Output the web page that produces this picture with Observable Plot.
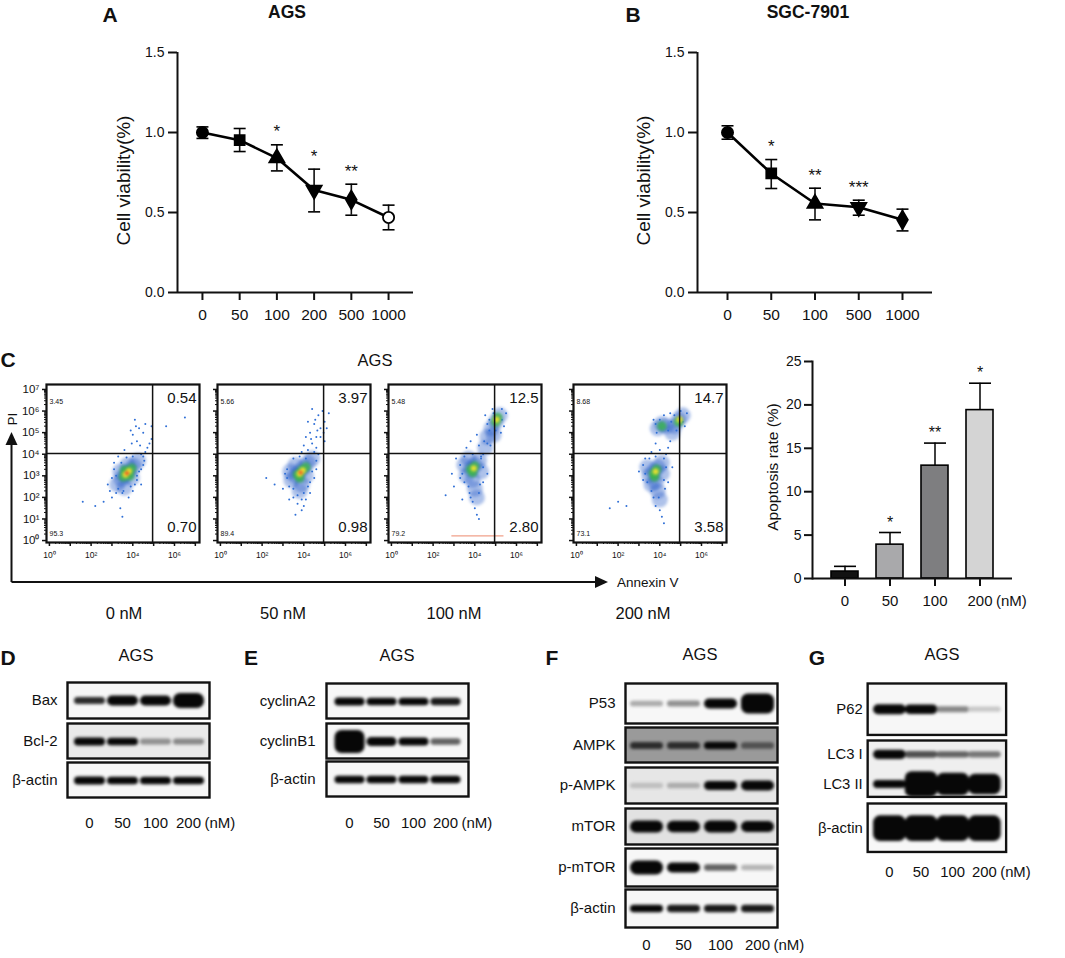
<!DOCTYPE html>
<html><head><meta charset="utf-8">
<script src="https://cdn.jsdelivr.net/npm/d3@7"></script>
<script src="https://cdn.jsdelivr.net/npm/@observablehq/plot@0.6"></script>
<style>
body{margin:0;background:#fff;font-family:"Liberation Sans",Arial,sans-serif;}
#fig{position:relative;width:1065px;height:958px;overflow:hidden;background:#fff;}
.abs{position:absolute;}
.lbl{position:absolute;white-space:nowrap;color:#111;line-height:1;font-family:"Liberation Sans",Arial,sans-serif;}
</style></head><body><div id="fig"></div>
<script>
// ---------- DATA ----------
const doseA = ["0","50","100","200","500","1000"];
const meanA = [1.00,0.952,0.840,0.640,0.579,0.469];
const lowA  = [0.963,0.881,0.760,0.504,0.483,0.392];
const highA = [1.035,1.025,0.923,0.771,0.677,0.546];
const sigA  = ["","","*","*","**",""];
const shapeA = ["circle","square","triangle","triangleDown","diamond","circleOpen"];

const doseB = ["0","50","100","500","1000"];
const meanB = [1.00,0.744,0.556,0.533,0.454];
const lowB  = [0.958,0.650,0.454,0.483,0.385];
const highB = [1.042,0.831,0.652,0.577,0.521];
const sigB  = ["","*","**","***",""];
const shapeB = ["circle","square","triangle","triangleDown","diamond"];
const viabTicks = [0,0.5,1.0,1.5];

const apopDose = ["0","50","100","200"];
const apopMean = [0.8,3.9,13.0,19.4];
const apopHigh = [1.4,5.3,15.6,22.5];
const apopSig  = ["","*","**","*"];
const apopTicks = [0,5,10,15,20,25];

const flowDoses = ["0 nM","50 nM","100 nM","200 nM"];
const flowUL = ["3.45","5.66","5.48","8.68"];
const flowUR = ["0.54","3.97","12.5","14.7"];
const flowLL = ["95.3","89.4","79.2","73.1"];
const flowLR = ["0.70","0.98","2.80","3.58"];
const gateAnnexin = 4.95, gatePI = 4.03;   // log10 units
const flowDecades = [0,1,2,3,4,5,6,7];
// events as [log10 Annexin V, log10 PI, density level 0..4]
const flow0 = [
 [3.25,2.6,1],[3.45,2.85,1],[3.65,3.05,1],[3.85,3.25,1],[4.05,3.45,1],[4.25,3.7,1],[3.6,2.45,1],[3.75,3.5,1],[3.4,3.2,1],[3.95,2.9,1],
 [3.55,2.95,2],[3.75,3.15,2],[3.95,3.35,2],[3.6,3.25,2],[3.85,3.0,2],
 [3.65,3.05,3],[3.82,3.22,3],[3.72,3.12,4],
 [4.5,3.9,0],[4.6,4.1,0],[4.7,4.3,0],[4.8,4.5,0],[4.4,4.0,0],[4.2,4.6,0],[4.0,4.9,0],[4.3,5.2,0],[4.6,5.4,0],[3.9,5.1,0],[4.1,5.6,0],[4.5,5.0,0],
 [4.9,5.3,0],[5.6,5.3,0],[6.5,5.7,0],[4.9,4.7,0],[3.2,2.2,0],[3.0,2.0,0],[2.6,1.8,0],[2.2,1.6,0],[1.6,1.8,0],[3.4,1.5,0],[3.5,1.1,0],[3.8,2.0,0],
 [4.0,2.3,0],[4.4,2.6,0],[2.8,2.6,0],[3.1,3.6,0],[3.3,3.9,0],[4.0,3.9,0],[3.6,4.2,0],[4.4,3.3,0],[4.2,3.0,0],[4.35,4.4,0],[4.15,5.3,0],[3.95,4.5,0],
 [3.0,2.9,0],[3.1,3.3,0],[3.3,2.4,0],[3.5,2.2,0],[3.9,2.5,0],[4.2,2.8,0],[4.3,3.2,0],[4.5,3.5,0],[3.45,3.6,0],[3.7,3.85,0],[3.2,3.0,0],[4.1,2.6,0],
 [3.55,2.3,0],[4.55,3.7,0],[2.9,2.3,0]
];
const flow50 = [
 [3.4,2.8,1],[3.6,3.0,1],[3.8,3.2,1],[4.0,3.4,1],[4.2,3.6,1],[4.4,3.8,1],[3.9,2.6,1],[3.6,3.5,1],[4.1,3.0,1],[3.8,2.3,1],[3.35,3.2,1],
 [3.7,3.05,2],[3.9,3.25,2],[4.1,3.4,2],[3.8,2.9,2],
 [3.8,3.1,3],[3.95,3.25,3],[3.85,3.15,4],
 [4.2,4.2,0],[4.4,4.5,0],[4.6,4.8,0],[4.8,5.2,0],[5.0,5.5,0],[4.3,5.0,0],[4.5,5.4,0],[4.1,4.8,0],[4.7,5.8,0],[4.9,6.0,0],[5.1,5.2,0],[4.0,4.4,0],
 [4.6,4.3,0],[4.8,4.8,0],[4.2,5.5,0],[4.4,6.1,0],[5.2,5.9,0],[4.5,4.1,0],[5.0,4.6,0],[3.9,4.1,0],[4.65,5.1,0],[4.35,4.7,0],[4.95,5.0,0],[4.55,5.6,0],
 [3.5,2.0,0],[3.7,1.7,0],[3.9,1.4,0],[4.1,1.9,0],[3.6,1.2,0],[3.3,1.9,0],[3.0,2.4,0],[2.6,2.6,0],[2.2,2.9,0],[4.3,2.2,0],[4.5,2.9,0],[4.6,3.3,0],[3.2,3.3,0],[4.0,1.6,0],
 [3.2,2.9,0],[3.3,2.5,0],[3.5,2.4,0],[3.7,2.1,0],[4.0,2.2,0],[4.3,2.7,0],[4.4,3.2,0],[4.6,3.7,0],[3.5,3.8,0],[3.8,3.9,0],[4.1,3.8,0],[3.1,3.1,0],
 [3.9,1.9,0],[4.2,2.5,0],[4.7,4.0,0]
];
const flow100 = [
 [3.6,3.0,1],[3.8,3.3,1],[4.0,3.5,1],[4.2,3.7,1],[3.9,2.8,1],[4.0,2.4,1],[4.1,2.0,1],[3.5,3.5,1],[4.3,3.2,1],[3.7,3.8,1],
 [4.8,5.2,1],[5.0,5.5,1],[5.2,5.8,1],[4.6,4.8,1],[4.5,4.3,1],[4.9,4.9,1],
 [3.8,3.3,2],[4.0,3.45,2],[3.9,3.15,2],[5.0,5.5,2],[5.1,5.7,2],
 [3.95,3.35,3],[5.05,5.6,3],
 [4.4,4.0,0],[4.3,3.9,0],[4.6,4.5,0],[4.2,4.4,0],[4.7,5.6,0],[5.3,6.1,0],[5.4,5.3,0],[4.5,5.8,0],[5.5,5.9,0],[4.0,1.5,0],[4.1,1.2,0],[3.9,1.8,0],
 [4.2,1.0,0],[3.3,2.9,0],[3.0,2.5,0],[2.9,3.1,0],[3.1,3.8,0],[4.4,2.7,0],[4.6,3.1,0],[3.6,4.3,0],[3.8,4.6,0],[4.1,4.9,0],[3.4,1.9,0],[2.6,2.1,0],
 [4.45,4.6,0],[4.75,4.4,0],[5.25,5.0,0],[4.85,6.1,0],[3.75,2.2,0],[4.25,2.6,0],
 [3.4,3.1,0],[3.5,2.7,0],[3.7,2.5,0],[3.8,2.0,0],[4.2,2.2,0],[4.4,3.4,0],[4.3,3.8,0],[3.5,3.9,0],[3.9,4.0,0],[3.3,3.5,0],[4.9,5.9,0],[5.3,5.6,0],
 [4.7,5.1,0],[5.0,5.1,0],[4.6,5.4,0]
];
const flow200 = [
 [3.5,3.0,1],[3.7,3.2,1],[3.9,3.4,1],[4.1,3.6,1],[3.8,2.7,1],[3.9,2.3,1],[4.0,1.9,1],[3.4,3.4,1],[4.1,3.1,1],[3.6,2.6,1],
 [3.9,5.2,1],[4.1,5.4,1],[4.7,5.3,1],[4.9,5.6,1],[5.1,5.8,1],[4.6,5.0,1],[4.3,5.3,1],
 [3.7,3.1,2],[3.85,3.3,2],[3.75,2.95,2],[4.9,5.5,2],[4.1,5.3,2],
 [3.8,3.2,3],[4.95,5.6,3],
 [4.3,4.0,0],[4.4,4.3,0],[4.5,4.6,0],[4.0,1.4,0],[4.1,1.1,0],[3.8,1.6,0],[4.2,0.8,0],[3.2,2.8,0],[3.0,3.2,0],[2.0,1.8,0],[1.6,1.5,0],[2.4,1.6,0],
 [3.6,4.1,0],[3.8,4.5,0],[3.7,5.6,0],[4.2,5.8,0],[5.2,5.3,0],[5.0,6.0,0],[4.5,5.9,0],[4.4,2.7,0],[4.6,3.4,0],[3.3,3.8,0],[4.0,4.2,0],[3.85,5.0,0],
 [4.55,5.5,0],[5.3,5.9,0],[3.95,2.0,0],[4.25,2.4,0],
 [3.3,3.1,0],[3.4,2.7,0],[3.6,2.3,0],[3.7,2.0,0],[4.2,2.8,0],[4.3,3.4,0],[4.2,3.8,0],[3.5,3.8,0],[3.8,3.9,0],[3.2,3.5,0],[3.8,5.4,0],[4.0,5.6,0],
 [4.4,5.1,0],[4.8,5.1,0],[5.1,5.5,0],[4.7,5.8,0]
];
const flowSets = [flow0, flow50, flow100, flow200];
const flowStreak = [2.9, 5.4, 0.22];   // x1, x2, y of the streak in the 100 nM plot

const lanes = ["0","50","100","200"];
// band signal per lane
const bax     = [0.10,0.24,0.24,0.48];
const bcl2    = [0.14,0.13,0.045,0.05];
const actinD  = [0.15,0.13,0.13,0.12];
const cycA2   = [0.14,0.12,0.13,0.11];
const cycB1   = [0.86,0.19,0.14,0.07];
const actinE  = [0.12,0.12,0.12,0.12];
const p53     = [0.03,0.045,0.24,0.71];
const ampk    = [0.10,0.10,0.12,0.08];
const pampk   = [0.02,0.03,0.20,0.24];
const mtor    = [0.33,0.30,0.33,0.28];
const pmtor   = [0.43,0.24,0.07,0.025];
const actinF  = [0.12,0.11,0.11,0.11];
const p62     = [0.24,0.22,0.05,0.015];
const lc3i    = [0.20,0.08,0.07,0.06];
const lc3ii   = [0.14,1.00,0.85,0.75];
const actinG  = [1.0,1.0,1.0,1.0];

// ---------- HELPERS ----------
const fig = document.getElementById("fig");
const FONT = "Liberation Sans, Arial, sans-serif";
const sup = ["⁰","¹","²","³","⁴","⁵","⁶","⁷"];

function place(node, left, top){
  const d = document.createElement("div");
  d.className = "abs"; d.style.left = left+"px"; d.style.top = top+"px";
  d.appendChild(node); fig.appendChild(d); return d;
}
function addText(txt, x, y, {size=16, weight="normal", anchor="middle", rotate=0}={}){
  const d = document.createElement("div");
  d.className = "lbl"; d.textContent = txt;
  d.style.left = x+"px"; d.style.top = y+"px"; d.style.fontSize = size+"px"; d.style.fontWeight = weight;
  const tx = anchor==="middle" ? "-50%" : anchor==="end" ? "-100%" : "0";
  d.style.transform = `translate(${tx},-50%)` + (rotate ? ` rotate(${rotate}deg)` : "");
  fig.appendChild(d);
}
function blurMarks(svg, px){
  svg.querySelectorAll('[aria-description="blur"]').forEach(g => g.style.filter = `blur(${px}px)`);
}
const styleBase = {fontFamily: FONT, color: "#111", background: "transparent", overflow: "visible"};

const triDown = {draw(ctx, size){ const s3 = Math.sqrt(3); const y = -Math.sqrt(size/(s3*3));
  ctx.moveTo(0,-2*y); ctx.lineTo(-s3*y, y); ctx.lineTo(s3*y, y); ctx.closePath(); }};
const capSym = {draw(ctx, size){ const w = Math.sqrt(size/Math.PI); ctx.moveTo(-w,0); ctx.lineTo(w,0); }};
const shapeNames = ["circle","square","triangle","triangleDown","diamond","circleOpen"];
const shapeSyms = [d3.symbolCircle, d3.symbolSquare, d3.symbolTriangle, triDown, d3.symbolDiamond, d3.symbolCircle];

// ---------- A & B : viability ----------
function viability(doses, mean, low, high, sig, shapes, L){
  const n = doses.length;
  const data = doses.map((d,i)=>({i, mean:mean[i], low:low[i], high:high[i], sig:sig[i], shape:shapes[i]}));
  const pad = L.pad;
  return Plot.plot({
    width: L.width, height: 330, marginLeft: L.ml, marginRight: L.width - L.fr, marginTop: 52, marginBottom: 38,
    x: {domain: [-pad, n-1+pad]},
    y: {domain: [0, 1.5]},
    symbol: {domain: shapeNames, range: shapeSyms},
    style: styleBase,
    marks: [
      Plot.ruleY([0], {strokeWidth: 2}),
      Plot.ruleX([-pad], {strokeWidth: 2}),
      Plot.axisY({ticks: viabTicks, tickFormat: d3.format(".1f"), tickSize: 9, tickPadding: 4, strokeWidth: 2, fontSize: 14, label: null}),
      Plot.axisX({ticks: d3.range(n), tickFormat: i => doses[i], tickSize: 8, tickPadding: 8, strokeWidth: 2, fontSize: 15.5, label: null}),
      Plot.text(["Cell viability(%)"], {text: d=>d, frameAnchor: "left", textAnchor: "middle", lineAnchor: "middle", rotate: -90, dx: -54, dy: 8, fontSize: 19}),
      Plot.ruleX(data, {x: "i", y1: "low", y2: "high", strokeWidth: 1.6}),
      Plot.dot(data, {x: "i", y: "low", symbol: capSym, r: 6, stroke: "black", strokeWidth: 1.6}),
      Plot.dot(data, {x: "i", y: "high", symbol: capSym, r: 6, stroke: "black", strokeWidth: 1.6}),
      Plot.line(data, {x: "i", y: "mean", strokeWidth: 2.6, stroke: "black"}),
      Plot.dot(data, {x: "i", y: "mean", symbol: "shape", r: 5.6, stroke: "black", strokeWidth: 1.8,
                      fill: d => d.shape === "circleOpen" ? "white" : "black"}),
      Plot.text(data, {x: "i", y: "high", text: "sig", dy: -13, fontSize: 17})
    ]
  });
}
place(viability(doseA, meanA, lowA, highA, sigA, shapeA, {width: 430, ml: 177, fr: 413, pad: 0.67}), 0, 0);
place(viability(doseB, meanB, lowB, highB, sigB, shapeB, {width: 420, ml: 167, fr: 402, pad: 0.686}), 530, 0);

addText("A", 110, 14, {size: 21, weight: "bold"});
addText("AGS", 287, 13, {size: 17.5, weight: "bold"});
addText("B", 633, 14, {size: 21, weight: "bold"});
addText("SGC-7901", 808, 13, {size: 17.5, weight: "bold"});

// ---------- C : flow cytometry ----------
const flowLefts = [46, 217, 388, 573];
const minorTicks = flowDecades.flatMap(nd => d3.range(2,10).map(k => nd + Math.log10(k))).filter(v => v < 7.15);
const levelStyle = [
  null,
  {r: 8, fill: "#1f55c4", op: 0.36},
  {r: 4.8, fill: "#39b54a", op: 0.8},
  {r: 3.1, fill: "#f2e130", op: 0.95},
  {r: 1.9, fill: "#ee3a22", op: 1}
];
flowSets.forEach((pts, k) => {
  const data = pts.map(([x,y,l]) => ({x, y, l}));
  const lvl = L => data.filter(d => d.l === L);
  const marks = [
    Plot.dot(lvl(1), {x: "x", y: "y", r: levelStyle[1].r, fill: levelStyle[1].fill, fillOpacity: levelStyle[1].op, ariaDescription: "blur"}),
    Plot.dot(lvl(0), {x: "x", y: "y", r: 1, fill: "#2f6fd6"}),
    Plot.dot(lvl(2), {x: "x", y: "y", r: levelStyle[2].r, fill: levelStyle[2].fill, fillOpacity: levelStyle[2].op, ariaDescription: "blur"}),
    Plot.dot(lvl(3), {x: "x", y: "y", r: levelStyle[3].r, fill: levelStyle[3].fill, fillOpacity: levelStyle[3].op, ariaDescription: "blur"}),
    Plot.dot(lvl(4), {x: "x", y: "y", r: levelStyle[4].r, fill: levelStyle[4].fill, fillOpacity: levelStyle[4].op, ariaDescription: "blur"})
  ];
  if (k === 2) marks.push(Plot.ruleY([flowStreak[2]], {x1: flowStreak[0], x2: flowStreak[1], stroke: "#f0a08a", strokeWidth: 1.2}));
  marks.push(
    Plot.ruleX([gateAnnexin], {strokeWidth: 1.5}),
    Plot.ruleY([gatePI], {strokeWidth: 1.5}),
    Plot.frame({strokeWidth: 2.2}),
    Plot.axisX({ticks: [0,2,4,6], tickFormat: n => "10" + sup[n], tickSize: 4, tickPadding: 5, strokeWidth: 1.5, fontSize: 8.5, label: null}),
    Plot.axisX({ticks: [1,3,5,7], tickFormat: () => "", tickSize: 4, strokeWidth: 1.5, label: null}),
    Plot.axisX({ticks: minorTicks, tickFormat: () => "", tickSize: 2, strokeWidth: 1, label: null}),
    Plot.axisY({ticks: flowDecades, tickFormat: k === 0 ? (n => "10" + sup[n]) : (() => ""), tickSize: 4, tickPadding: 3, strokeWidth: 1.5, fontSize: 11.5, label: null}),
    Plot.axisY({ticks: minorTicks, tickFormat: () => "", tickSize: 2, strokeWidth: 1, label: null}),
    Plot.text([flowUR[k]], {text: d=>d, frameAnchor: "top-right", lineAnchor: "middle", dx: -3, dy: 14, fontSize: 15, textAnchor: "end"}),
    Plot.text([flowLR[k]], {text: d=>d, frameAnchor: "bottom-right", lineAnchor: "middle", dx: -3, dy: -15, fontSize: 15, textAnchor: "end"}),
    Plot.text([flowUL[k]], {text: d=>d, frameAnchor: "top-left", lineAnchor: "middle", dx: 3, dy: 17, fontSize: 7, textAnchor: "start"}),
    Plot.text([flowLL[k]], {text: d=>d, frameAnchor: "bottom-left", lineAnchor: "middle", dx: 3, dy: -9, fontSize: 7, textAnchor: "start"})
  );
  const svg = Plot.plot({
    width: 40 + 153 + 6, height: 6 + 158 + 24, marginLeft: 40, marginRight: 6, marginTop: 6, marginBottom: 24,
    x: {domain: [-0.14, 7.2]}, y: {domain: [-0.09, 7.23]},
    style: styleBase, marks
  });
  blurMarks(svg, 1.8);
  place(svg, flowLefts[k] - 40, 378);
});
const flowCenters = [124, 283, 454, 643];
flowDoses.forEach((t, k) => addText(t, flowCenters[k], 613, {size: 16.5}));
addText("C", 8, 359, {size: 21, weight: "bold"});
addText("AGS", 375, 360, {size: 16.5});
addText("PI", 12, 419, {size: 13, rotate: -90});
addText("Annexin V", 617, 583, {size: 13.5, anchor: "start"});
{
  const ns = "http://www.w3.org/2000/svg";
  const s = document.createElementNS(ns, "svg");
  s.setAttribute("width", 620); s.setAttribute("height", 600);
  s.style.position = "absolute"; s.style.left = "0px"; s.style.top = "0px"; s.style.overflow = "visible";
  s.innerHTML = `<path d="M11.5,582 V444" stroke="#111" stroke-width="2" fill="none"/>
    <path d="M5.5,445 L11.5,432 L17.5,445 Z" fill="#111"/>
    <path d="M11.5,582 H596" stroke="#111" stroke-width="2" fill="none"/>
    <path d="M595,576 L608,582 L595,588 Z" fill="#111"/>`;
  fig.appendChild(s);
}

// ---------- C right : apoptosis bars ----------
{
  const data = apopDose.map((d,i)=>({dose: d, mean: apopMean[i], high: apopHigh[i], sig: apopSig[i]}));
  const svg = Plot.plot({
    width: 325, height: 300, marginLeft: 72, marginRight: 53, marginTop: 31, marginBottom: 52,
    x: {domain: apopDose, paddingInner: 0.39, paddingOuter: 0.37},
    y: {domain: [0, 25]},
    color: {domain: apopDose, range: ["#121212", "#a9a9ab", "#7e7e80", "#d4d4d4"]},
    style: styleBase,
    marks: [
      Plot.ruleX(data, {x: "dose", y1: "mean", y2: "high", strokeWidth: 1.6}),
      Plot.dot(data, {x: "dose", y: "high", symbol: capSym, r: 11, stroke: "black", strokeWidth: 1.6}),
      Plot.barY(data, {x: "dose", y: "mean", fill: "dose", stroke: "black", strokeWidth: 1.6}),
      Plot.ruleY([0], {strokeWidth: 2}),
      Plot.frame({anchor: "left", strokeWidth: 2}),
      Plot.axisY({ticks: apopTicks, tickSize: 8, tickPadding: 3, strokeWidth: 2, fontSize: 14, label: null}),
      Plot.axisX({tickSize: 8, tickPadding: 9, strokeWidth: 2, fontSize: 15, label: null}),
      Plot.text(["(nM)"], {text: d=>d, x: () => "200", frameAnchor: "bottom", lineAnchor: "top", dy: 17, dx: 16, textAnchor: "start", fontSize: 15}),
      Plot.text(["Apoptosis rate (%)"], {text: d=>d, frameAnchor: "left", textAnchor: "middle", lineAnchor: "middle", rotate: -90, dx: -39, dy: -3, fontSize: 15.5}),
      Plot.text(data, {x: "dose", y: "high", text: "sig", dy: -10, fontSize: 16})
    ]
  });
  place(svg, 740, 330);
}

// ---------- D-G : western blots ----------
function bandSym(hw){
  return {draw(ctx, size){
    const h = Math.min(Math.sqrt(size/Math.PI), hw), w = hw, rr = Math.min(h, 7);
    ctx.moveTo(-w+rr, -h); ctx.lineTo(w-rr, -h); ctx.arcTo(w, -h, w, -h+rr, rr);
    ctx.lineTo(w, h-rr); ctx.arcTo(w, h, w-rr, h, rr); ctx.lineTo(-w+rr, h);
    ctx.arcTo(-w, h, -w, h-rr, rr); ctx.lineTo(-w, -h+rr); ctx.arcTo(-w, -h, -w+rr, -h, rr); ctx.closePath();
  }};
}
function blotBox(P, box, isLast){
  const data = box.rows.flatMap((r, ri) => lanes.map((l, li) => ({row: r, lane: l, v: box.vals[ri][li]})));
  const mb = isLast ? 40 : 0;
  const marks = [
    Plot.frame({fill: box.bg || "#f7f7f7", stroke: "none"}),
    Plot.dot(data, {x: "lane", y: "row", r: "v", fill: "v", symbol: bandSym(P.hw), ariaDescription: "blur"}),
    Plot.frame({stroke: "#111", strokeWidth: 2.4}),
    Plot.axisY({tickSize: 0, tickPadding: P.labPad, fontSize: 15, label: null})
  ];
  if (isLast) marks.push(
    Plot.axisX({tickSize: 0, tickPadding: P.lanePad, fontSize: 15, label: null}),
    Plot.text(["(nM)"], {text: d=>d, x: () => "200", frameAnchor: "bottom", lineAnchor: "top", dy: P.lanePad, dx: 16, textAnchor: "start", fontSize: 15})
  );
  const svg = Plot.plot({
    width: P.labelW + P.boxW + 60, height: box.h + mb,
    marginLeft: P.labelW, marginRight: 60, marginTop: 0, marginBottom: mb,
    x: {type: "point", domain: lanes, padding: P.padX, axis: isLast ? undefined : null},
    y: {type: "point", domain: box.rows, padding: box.rows.length > 1 ? 0.45 : 0.5},
    r: {type: "linear", domain: [0, 1], range: [2.5, 13]},
    color: {type: "linear", domain: [0, 0.12], range: ["#e2e2e2", "#070707"], clamp: true},
    style: styleBase, marks
  });
  blurMarks(svg, 1.8);
  place(svg, P.boxLeft - P.labelW, box.top);
}
const blotPanels = [
  {boxLeft: 67, boxW: 142, labelW: 67, labPad: 10, lanePad: 20, padX: 0.62, hw: 15.5, boxes: [
    {rows: ["Bax"], vals: [bax], top: 682, h: 36},
    {rows: ["Bcl-2"], vals: [bcl2], top: 723, h: 35, bg: "#e9e9e9"},
    {rows: ["β-actin"], vals: [actinD], top: 762, h: 35}]},
  {boxLeft: 326, boxW: 142, labelW: 90, labPad: 11, lanePad: 21, padX: 0.7, hw: 15, boxes: [
    {rows: ["cyclinA2"], vals: [cycA2], top: 683, h: 35},
    {rows: ["cyclinB1"], vals: [cycB1], top: 723, h: 35},
    {rows: ["β-actin"], vals: [actinE], top: 761, h: 35}]},
  {boxLeft: 625, boxW: 152, labelW: 100, labPad: 10, lanePad: 12, padX: 0.54, hw: 16.5, boxes: [
    {rows: ["P53"], vals: [p53], top: 683, h: 40},
    {rows: ["AMPK"], vals: [ampk], top: 727, h: 35, bg: "#9a9a9a"},
    {rows: ["p-AMPK"], vals: [pampk], top: 767, h: 36, bg: "#e6e6e6"},
    {rows: ["mTOR"], vals: [mtor], top: 808, h: 36, bg: "#e2e2e2"},
    {rows: ["p-mTOR"], vals: [pmtor], top: 848, h: 38},
    {rows: ["β-actin"], vals: [actinF], top: 889, h: 38}]},
  {boxLeft: 868, boxW: 140, labelW: 80, labPad: 5, lanePad: 15, padX: 0.65, hw: 16.5, boxes: [
    {rows: ["P62"], vals: [p62], top: 683, h: 52},
    {rows: ["LC3 I", "LC3 II"], vals: [lc3i, lc3ii], top: 740, h: 57, bg: "#efefef"},
    {rows: ["β-actin"], vals: [actinG], top: 803, h: 49}]}
];
blotPanels.forEach(P => P.boxes.forEach((b, j) => blotBox(P, b, j === P.boxes.length - 1)));

addText("D", 8, 657, {size: 21, weight: "bold"});
addText("AGS", 136, 655, {size: 16.5});
addText("E", 251, 657, {size: 21, weight: "bold"});
addText("AGS", 397, 655, {size: 16.5});
addText("F", 552, 657, {size: 21, weight: "bold"});
addText("AGS", 700, 654, {size: 16.5});
addText("G", 817, 657, {size: 21, weight: "bold"});
addText("AGS", 942, 654, {size: 16.5});
</script></body></html>
